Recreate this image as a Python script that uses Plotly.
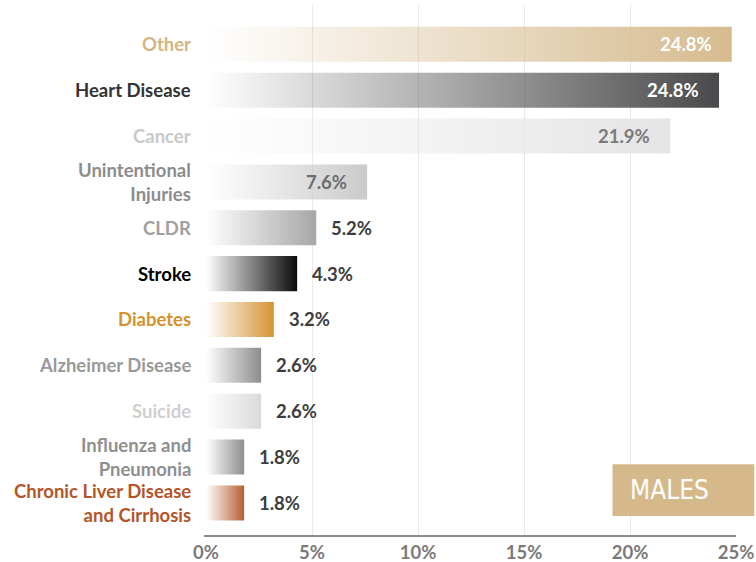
import plotly.graph_objects as go

# ---- data ----
categories = ["Other", "Heart Disease", "Cancer", "Unintentional<br>Injuries", "CLDR",
              "Stroke", "Diabetes", "Alzheimer Disease", "Suicide",
              "Influenza and<br>Pneumonia", "Chronic Liver Disease<br>and Cirrhosis"]
values = [24.8, 24.2, 21.9, 7.6, 5.2, 4.3, 3.2, 2.6, 2.6, 1.8, 1.8]
value_labels = ["24.8%", "24.8%", "21.9%", "7.6%", "5.2%", "4.3%", "3.2%",
                "2.6%", "2.6%", "1.8%", "1.8%"]
x_ticks = [0, 5, 10, 15, 20, 25]
x_tick_labels = ["0%", "5%", "10%", "15%", "20%", "25%"]
panel_title = "MALES"

# ---- styles ----
bar_rgb = [(212, 184, 138), (66, 66, 68), (229, 228, 228), (200, 200, 200),
           (163, 163, 163), (0, 0, 0), (212, 143, 42), (136, 136, 136),
           (216, 216, 216), (138, 138, 138), (180, 89, 43)]
label_colors = ["#d3b684", "#333333", "#c9c9c9", "#8c8c8c", "#a0a0a0", "#000000",
                "#d4922f", "#999999", "#cfcfcf", "#8f8f8f", "#b35528"]
inside_text_colors = ["#ffffff", "#ffffff", "#7a7a7a", "#6e6e6e"]
FONT = "Lato, 'Source Sans Pro', 'Open Sans', sans-serif"
half_h = 0.382

fig = go.Figure()

for i, (v, (r, g, b)) in enumerate(zip(values, bar_rgb)):
    fig.add_trace(go.Scatter(
        x=[0, v, v, 0, 0],
        y=[i - half_h, i - half_h, i + half_h, i + half_h, i - half_h],
        mode="none", fill="toself",
        fillgradient=dict(type="horizontal",
                          colorscale=[[0, f"rgba({r},{g},{b},0)"],
                                      [1, f"rgba({r},{g},{b},0.96)"]]),
        hoverinfo="skip", showlegend=False,
    ))

annotations = []
for i, (cat, lc) in enumerate(zip(categories, label_colors)):
    annotations.append(dict(
        x=0, xref="paper", y=i, yref="y", text=cat, showarrow=False,
        xanchor="right", yanchor="middle", align="right", xshift=-13,
        font=dict(family=FONT, size=18.5, color=lc, weight="bold"),
    ))

for i, (v, t) in enumerate(zip(values, value_labels)):
    inside = i < len(inside_text_colors)
    annotations.append(dict(
        x=v, xref="x", y=i, yref="y", text=t, showarrow=False,
        xanchor="right" if inside else "left", yanchor="middle",
        xshift=-18 if inside else 13,
        font=dict(family=FONT, size=18.5, weight="bold",
                  color=inside_text_colors[i] if inside else "#3d3d3d"),
    ))

annotations.append(dict(
    x=0.7957, xref="paper", y=0.0849, yref="paper", text=panel_title,
    showarrow=False, xanchor="left", yanchor="middle",
    font=dict(family="'Liberation Sans Narrow', 'DejaVu Sans Condensed', sans-serif",
              size=26, color="#ffffff"),
))

fig.update_layout(
    width=756, height=562,
    margin=dict(l=206, r=20, t=5, b=27, autoexpand=False),
    paper_bgcolor="white", plot_bgcolor="white",
    showlegend=False,
    annotations=annotations,
    shapes=[dict(type="rect", xref="paper", yref="paper",
                 x0=0.767, x1=1.0345, y0=0.0358, y1=0.1334,
                 fillcolor="#d5b98a", line=dict(width=0), layer="above")],
    xaxis=dict(range=[0, 25], tickvals=x_ticks, ticktext=x_tick_labels,
               automargin=False,
               showgrid=True, gridcolor="#e9e9e9", gridwidth=1, zeroline=False,
               showline=True, linecolor="#8a8a8a", linewidth=2,
               ticks="", 
               tickfont=dict(family=FONT, size=18.5, color="#7a7a7a", weight="bold")),
    yaxis=dict(range=[10.70, -0.858], showticklabels=False, showgrid=False,
               automargin=False,
               zeroline=False, showline=True, linecolor="white", linewidth=2),
)

fig.write_html("out.html",
               config={"displayModeBar": False, "staticPlot": True},
               post_script="document.body.style.margin='0';"
                           "document.body.style.overflow='hidden';")
